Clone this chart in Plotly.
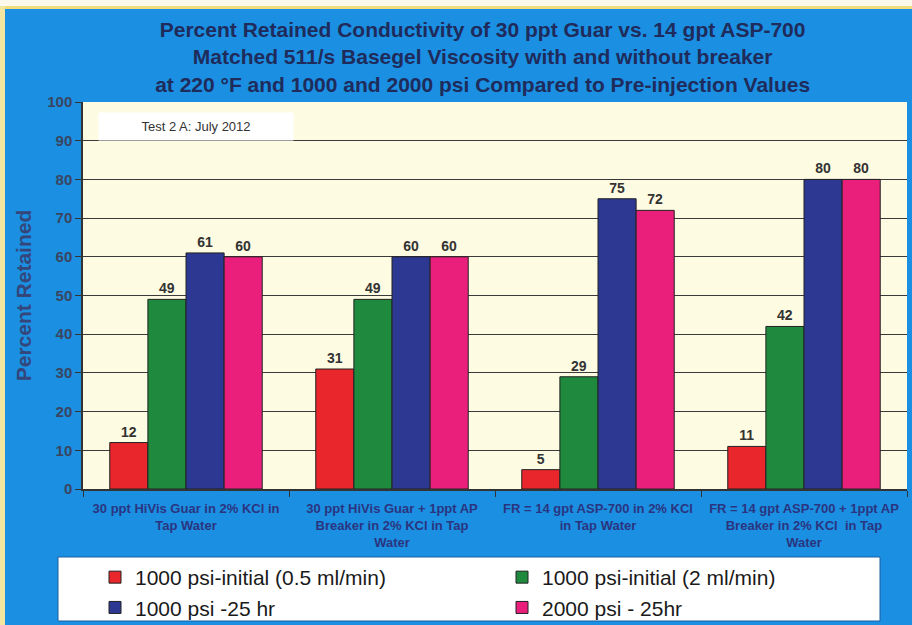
import plotly.graph_objects as go

# Test groups (x-axis categories) and their wrapped tick labels
categories = [
    "30 ppt HiVis Guar in 2% KCl in Tap Water",
    "30 ppt HiVis Guar + 1ppt AP Breaker in 2% KCl in Tap Water",
    "FR = 14 gpt ASP-700 in 2% KCl in Tap Water",
    "FR = 14 gpt ASP-700 + 1ppt AP Breaker in 2% KCl  in Tap Water",
]
tick_labels = [
    "30 ppt HiVis Guar in 2% KCl in<br>Tap Water",
    "30 ppt HiVis Guar + 1ppt AP<br>Breaker in 2% KCl in Tap<br>Water",
    "FR = 14 gpt ASP-700 in 2% KCl<br>in Tap Water",
    "FR = 14 gpt ASP-700 + 1ppt AP<br>Breaker in 2% KCl  in Tap<br>Water",
]

# Percent retained conductivity per condition
series_names = [
    "1000 psi-initial (0.5 ml/min)",
    "1000 psi-initial (2 ml/min)",
    "1000 psi -25 hr",
    "2000 psi - 25hr",
]
initial_05 = [12, 31, 5, 11]
initial_2 = [49, 49, 29, 42]
psi1000_25hr = [61, 60, 75, 80]
psi2000_25hr = [60, 60, 72, 80]

series_values = [initial_05, initial_2, psi1000_25hr, psi2000_25hr]
series_colors = ["#e8262c", "#1f8a3e", "#2d3892", "#ea1f7c"]
legend_groups = ["legend", "legend2", "legend", "legend2"]

y_ticks = list(range(0, 101, 10))

BLUE_BG = "#1b8fe2"
FONT = "Liberation Sans, Arial, sans-serif"

# plot area in pixels (used to convert slide decorations to paper coords)
W, H = 912, 625
ML, MR, MT, MB = 83, 5, 102, 136
PW, PH = W - ML - MR, H - MT - MB


def px_x(px):
    return (px - ML) / PW


def px_y(py):
    return (H - MB - py) / PH


fig = go.Figure()
for name, vals, color, lg in zip(series_names, series_values, series_colors, legend_groups):
    fig.add_trace(go.Bar(
        x=categories,
        y=vals,
        name=name,
        legend=lg,
        marker=dict(color=color, line=dict(color="#222222", width=1)),
        text=vals,
        texttemplate="%{text}",
        textposition="outside",
        textfont=dict(family=FONT, size=14, color="#333333", weight="bold"),
        cliponaxis=False,
    ))

legend_style = dict(
    orientation="v", xanchor="left", yanchor="top",
    bgcolor="rgba(0,0,0,0)", font=dict(family=FONT, size=21, color="#1a1a1a"),
    traceorder="normal", tracegroupgap=0, itemwidth=30,
)

fig.update_layout(
    width=W,
    height=H,
    margin=dict(l=ML, r=MR, t=MT, b=MB, autoexpand=False),
    paper_bgcolor=BLUE_BG,
    plot_bgcolor="#fdfbe2",
    barmode="group",
    bargap=0.26,
    bargroupgap=0,
    showlegend=True,
    font=dict(family=FONT),
    title=dict(
        text=("Percent Retained Conductivity of 30 ppt Guar vs. 14 gpt ASP-700<br>"
              "Matched 511/s Basegel Viscosity with and without breaker<br>"
              "at 220 °F and 1000 and 2000 psi Compared to Pre-injection Values"),
        x=0.485, xref="paper", xanchor="center",
        y=1 - 37 / H, yref="container", yanchor="top",
        font=dict(family=FONT, size=21, color="#1f2b5a", weight="bold"),
    ),
    xaxis=dict(
        type="category",
        tickvals=categories,
        ticktext=tick_labels,
        tickson="boundaries",
        ticks="outside",
        ticklen=6,
        tickcolor="#333333",
        ticklabelstandoff=7,
        showline=True,
        linecolor="#333333",
        linewidth=1.5,
        showgrid=False,
        tickfont=dict(family=FONT, size=13, color="#2a3580", weight="bold"),
    ),
    yaxis=dict(
        range=[0, 100],
        tickvals=y_ticks,
        ticks="outside",
        ticklen=6,
        tickcolor="#333333",
        showline=True,
        linecolor="#333333",
        linewidth=1.5,
        showgrid=True,
        gridcolor="#3a3a3a",
        gridwidth=1.2,
        zeroline=False,
        tickfont=dict(family=FONT, size=15, color="#3a4560", weight="bold"),
        title=dict(text="Percent Retained", standoff=10,
                   font=dict(family=FONT, size=21, color="#34467a", weight="bold")),
    ),
    legend=dict(legend_style, x=px_x(95), y=px_y(557)),
    legend2=dict(legend_style, x=px_x(502), y=px_y(557)),
    shapes=[
        # white legend panel
        dict(type="rect", xref="paper", yref="paper", x0=px_x(58), x1=px_x(880),
             y0=px_y(621), y1=px_y(557), fillcolor="white",
             line=dict(color="#1a5fa0", width=1), layer="below"),
        # pale edges of the slide
        dict(type="rect", xref="paper", yref="paper", x0=px_x(0), x1=px_x(5),
             y0=px_y(H), y1=px_y(0), fillcolor="#f3e6a0", line=dict(width=0), layer="below"),
        dict(type="rect", xref="paper", yref="paper", x0=px_x(0), x1=px_x(W),
             y0=px_y(6), y1=px_y(0), fillcolor="#fbf8ec", line=dict(width=0), layer="below"),
        dict(type="rect", xref="paper", yref="paper", x0=px_x(5), x1=px_x(W),
             y0=px_y(9), y1=px_y(6), fillcolor="#f0dc7a", line=dict(width=0), layer="below"),
    ],
    annotations=[
        dict(text="Test 2 A: July 2012", xref="paper", yref="paper",
             x=px_x(196), y=px_y(127), xanchor="center", yanchor="middle", showarrow=False,
             bgcolor="white", width=192, height=25,
             font=dict(family=FONT, size=13, color="#333333")),
    ],
)

fig.write_html("out.html")
